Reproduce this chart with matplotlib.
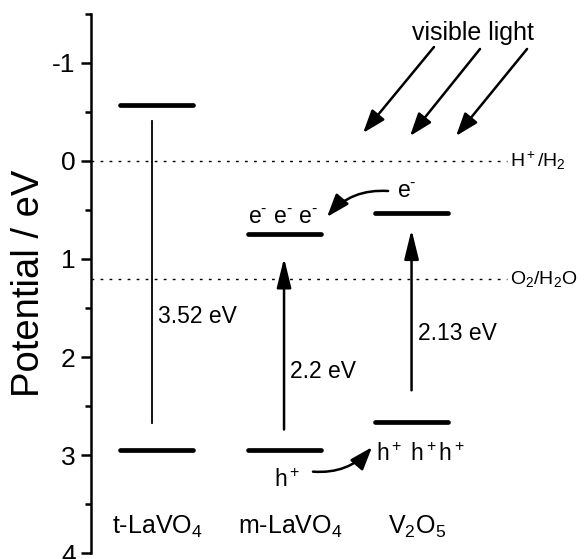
import matplotlib
matplotlib.use("Agg")
import matplotlib.pyplot as plt

plt.rcParams['font.family'] = ['Liberation Sans', 'DejaVu Sans']
plt.rcParams['mathtext.fontset'] = 'custom'
plt.rcParams['mathtext.rm'] = 'Liberation Sans'
plt.rcParams['mathtext.it'] = 'Liberation Sans'
plt.rcParams['mathtext.default'] = 'regular'

# Band-edge potentials (V vs NHE) for each photocatalyst
materials = ['t-LaVO$_4$', 'm-LaVO$_4$', 'V$_2$O$_5$']
positions = [1, 2, 3]
conduction_band = [-0.57, 0.75, 0.53]
valence_band = [2.95, 2.95, 2.66]

# Redox reference potentials
redox_labels = ['H$^+$/H$_2$', 'O$_2$/H$_2$O']
redox_levels = [0.0, 1.2]

yticks = [-1, 0, 1, 2, 3, 4]

E = r'e$^{\text{-}}$'
H = r'h$^+$'

fig = plt.figure(figsize=(5.87, 5.59), dpi=100)
ax = fig.add_axes([0.155, 0.0107, 0.845, 0.9643])
ax.set_xlim(0.486, 4.376)
ax.set_ylim(4, -1.5)

for s in ['top', 'right', 'bottom']:
    ax.spines[s].set_visible(False)
ax.spines['left'].set_linewidth(1.8)
ax.set_xticks([])
ax.set_yticks(yticks)
ax.set_yticklabels([str(t) for t in yticks])
ax.set_yticks([-1.5 + 0.5 * k for k in range(12) if (-1.5 + 0.5 * k) not in yticks], minor=True)
ax.tick_params(axis='y', which='major', length=7, width=1.8, labelsize=19, pad=4)
ax.tick_params(axis='y', which='minor', length=4, width=1.8)
ax.set_ylabel('Potential / eV', fontsize=27.5, labelpad=4)

# Redox reference lines
for lbl, lev in zip(redox_labels, redox_levels):
    ax.plot([0.486, 3.75], [lev, lev], color='black', lw=1.0,
            linestyle=(0, (2, 4.5)))
    ax.text(3.77, lev, lbl, fontsize=14, va='center', ha='left')

# Band edges
hw = 0.286
for x, cb, vb in zip(positions, conduction_band, valence_band):
    ax.plot([x - hw, x + hw], [cb, cb], color='black', lw=3.4,
            solid_capstyle='round')
    ax.plot([x - hw, x + hw], [vb, vb], color='black', lw=3.4,
            solid_capstyle='round')

gaps = [vb - cb for cb, vb in zip(conduction_band, valence_band)]
gap_text = ['%.2f eV' % g if abs(g * 10 - round(g * 10)) > 1e-6 else '%.1f eV' % g
            for g in gaps]

# t-LaVO4: plain line for band gap
ax.plot([0.965, 0.965], [-0.41, 2.67], color='black', lw=1.3)
ax.text(1.01, 1.59, gap_text[0], fontsize=16.5, va='center', ha='left')

# Excitation arrows for m-LaVO4 and V2O5
arrow_kw = dict(arrowstyle='-|>,head_length=0.9,head_width=0.22',
                color='black', lw=1.8, mutation_scale=20, shrinkA=0, shrinkB=0)
ax.annotate('', xy=(2.0, 0.99), xytext=(2.0, 2.74), arrowprops=arrow_kw)
ax.text(2.05, 2.15, gap_text[1], fontsize=16.5, va='center', ha='left')
ax.annotate('', xy=(3.0, 0.70), xytext=(3.0, 2.34), arrowprops=arrow_kw)
ax.text(3.05, 1.76, gap_text[2], fontsize=16.5, va='center', ha='left')

# Incident visible light
light_kw = dict(arrowstyle='-|>,head_length=0.7,head_width=0.25',
                color='black', lw=1.8, mutation_scale=20, shrinkA=0, shrinkB=0)
for (x0, y0), (x1, y1) in [((3.176, -1.163), (2.62, -0.286)),
                           ((3.537, -1.143), (2.988, -0.255)),
                           ((3.906, -1.143), (3.349, -0.255))]:
    ax.annotate('', xy=(x1, y1), xytext=(x0, y0), arrowprops=light_kw)
ax.text(3.48, -1.31, 'visible light', fontsize=18, ha='center', va='center')

# Charge transfer
curve_kw = dict(arrowstyle='-|>,head_length=0.7,head_width=0.25',
                color='black', lw=1.8, mutation_scale=20, shrinkA=0, shrinkB=0)
ax.annotate('', xy=(2.337, 0.571), xytext=(2.816, 0.306),
            arrowprops=dict(connectionstyle='arc3,rad=0.25', **curve_kw))
ax.annotate('', xy=(2.69, 2.92), xytext=(2.227, 3.17),
            arrowprops=dict(connectionstyle='arc3,rad=0.25', **curve_kw))

ax.text(1.99, 0.58, ' '.join([E] * 3), fontsize=16.5, ha='center', va='center')
ax.text(2.96, 0.31, E, fontsize=16.5, ha='center', va='center')
ax.text(2.02, 3.26, H, fontsize=16.5, ha='center', va='center')
ax.text(3.07, 2.99, H + ' ' + H + H, fontsize=16.5, ha='center', va='center')

# Material labels
label_x = [1.01, 2.05, 3.04]
for x, name in zip(label_x, materials):
    ax.text(x, 3.73, name, fontsize=18, ha='center', va='center')

fig.savefig('out.png', dpi=100)
